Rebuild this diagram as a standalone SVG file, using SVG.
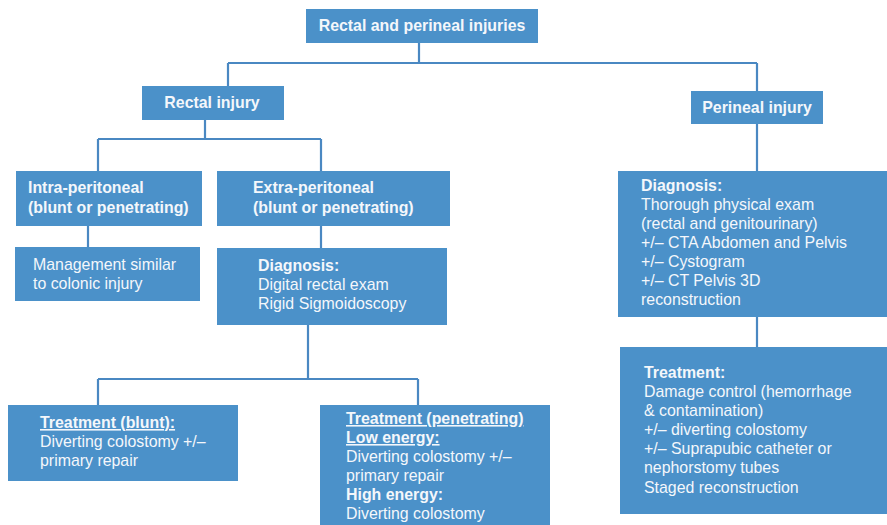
<svg xmlns="http://www.w3.org/2000/svg" width="887" height="525" viewBox="0 0 887 525">
<style>
.box{fill:#4b91c9}
.t{font-family:"Liberation Sans",Arial,sans-serif;font-size:15.9px;fill:#f4f7fb}
.b{font-weight:bold}
.u{text-decoration:underline}
.c{text-anchor:middle}
.conn{fill:none;stroke:#4a88c2;stroke-width:2.2}
</style>
<rect width="887" height="525" fill="#ffffff"/>
<g id="connectors">
<path class="conn" d="M419,43 V63 M228,63 H757 M228,63 V86 M757,63 V91"/>
<path class="conn" d="M205,120 V139 M98,139 H321 M98,139 V171 M321,139 V171"/>
<path class="conn" d="M88,226 V247 M321,226 V248"/>
<path class="conn" d="M308,325 V379 M98,379 H418 M98,379 V405 M418,379 V405"/>
<path class="conn" d="M757,124 V171 M757,317 V347"/>
</g>
<g id="root">
<rect class="box" x="306" y="9" width="232" height="34"/>
<text class="t b c" x="422" y="31">Rectal and perineal injuries</text>
</g>
<g id="rectal">
<rect class="box" x="142" y="86" width="142" height="34"/>
<text class="t b c" x="212" y="108">Rectal injury</text>
</g>
<g id="perineal">
<rect class="box" x="691" y="91" width="132" height="33"/>
<text class="t b c" x="757" y="113">Perineal injury</text>
</g>
<g id="intra">
<rect class="box" x="16" y="171" width="186" height="55"/>
<text class="t b" x="28" y="193">Intra-peritoneal</text>
<text class="t b" x="28" y="213">(blunt or penetrating)</text>
</g>
<g id="extra">
<rect class="box" x="217" y="171" width="233" height="55"/>
<text class="t b" x="253" y="193">Extra-peritoneal</text>
<text class="t b" x="253" y="213">(blunt or penetrating)</text>
</g>
<g id="management">
<rect class="box" x="15" y="247" width="185" height="54"/>
<text class="t" x="33" y="270">Management similar</text>
<text class="t" x="33" y="289">to colonic injury</text>
</g>
<g id="extra-diagnosis">
<rect class="box" x="217" y="248" width="230" height="77"/>
<text class="t b" x="258" y="271">Diagnosis:</text>
<text class="t" x="258" y="290">Digital rectal exam</text>
<text class="t" x="258" y="309">Rigid Sigmoidoscopy</text>
</g>
<g id="treatment-blunt">
<rect class="box" x="8" y="405" width="230" height="76"/>
<text class="t b u" x="40" y="428">Treatment (blunt):</text>
<text class="t" x="40" y="447">Diverting colostomy +/–</text>
<text class="t" x="40" y="466">primary repair</text>
</g>
<g id="treatment-penetrating">
<rect class="box" x="320" y="405" width="230" height="125"/>
<text class="t b u" x="346" y="424">Treatment (penetrating)</text>
<text class="t b u" x="346" y="443">Low energy: </text>
<text class="t" x="346" y="462">Diverting colostomy +/–</text>
<text class="t" x="346" y="481">primary repair</text>
<text class="t b" x="346" y="500">High energy:</text>
<text class="t" x="346" y="519">Diverting colostomy</text>
</g>
<g id="perineal-diagnosis">
<rect class="box" x="618" y="171" width="270" height="146"/>
<text class="t b" x="641" y="191">Diagnosis:</text>
<text class="t" x="641" y="210">Thorough physical exam</text>
<text class="t" x="641" y="229">(rectal and genitourinary)</text>
<text class="t" x="641" y="248">+/– CTA Abdomen and Pelvis</text>
<text class="t" x="641" y="267">+/– Cystogram</text>
<text class="t" x="641" y="286">+/– CT Pelvis 3D</text>
<text class="t" x="641" y="305">reconstruction</text>
</g>
<g id="perineal-treatment">
<rect class="box" x="620" y="347" width="268" height="167"/>
<text class="t b" x="644" y="378">Treatment:</text>
<text class="t" x="644" y="397">Damage control (hemorrhage</text>
<text class="t" x="644" y="416">&amp; contamination)</text>
<text class="t" x="644" y="435">+/– diverting colostomy</text>
<text class="t" x="644" y="454">+/– Suprapubic catheter or</text>
<text class="t" x="644" y="473">nephorstomy tubes</text>
<text class="t" x="644" y="493">Staged reconstruction</text>
</g>
</svg>
